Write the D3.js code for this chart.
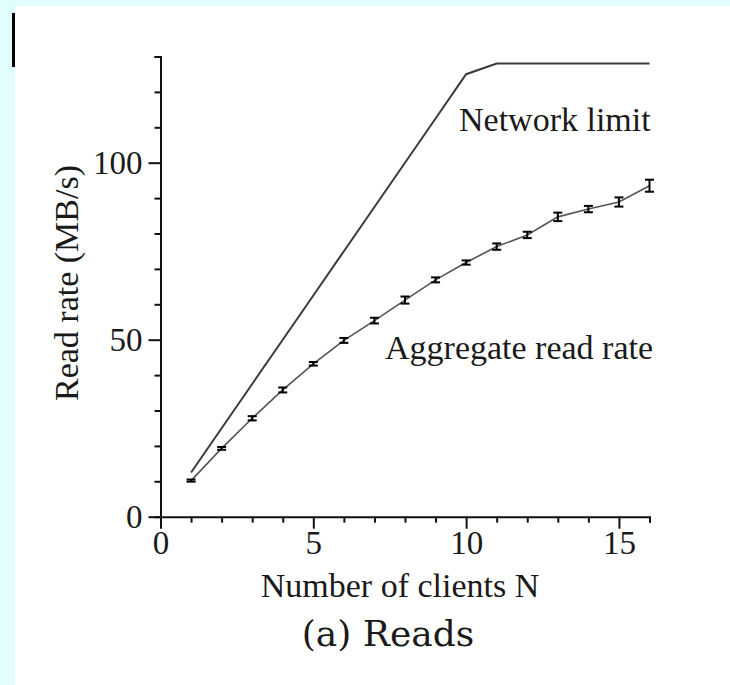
<!DOCTYPE html>
<html>
<head>
<meta charset="utf-8">
<script src="https://cdn.jsdelivr.net/npm/d3@7"></script>
<style>
  html, body { margin: 0; padding: 0; background: #e2fdfd; }
  svg { display: block; }
  text { font-family: "Liberation Serif", "Times New Roman", serif; fill: #1a1a1a; }
</style>
</head>
<body>
<script>
// ---- data ----
const clients = [1, 2, 3, 4, 5, 6, 7, 8, 9, 10, 11, 12, 13, 14, 15, 16];
const aggregateRead = [10.2, 19.3, 27.8, 35.8, 43.2, 49.8, 55.4, 61.2, 66.9, 71.8, 76.3, 79.6, 84.7, 86.9, 88.9, 93.5];
const aggregateErr = [0.3, 0.4, 0.6, 0.7, 0.5, 0.7, 0.8, 1.0, 0.7, 0.6, 0.9, 0.9, 1.2, 0.9, 1.3, 1.7];
const networkLimit = [12.5, 25, 37.5, 50, 62.5, 75, 87.5, 100, 112.5, 125, 128, 128, 128, 128, 128, 128];
const xTickValues = d3.range(0, 17, 1);
const xTickLabels = [0, 5, 10, 15];
const yTickValues = d3.range(0, 131, 10);
const yTickLabels = [0, 50, 100];
const seriesLabels = ["Network limit", "Aggregate read rate"];
const xTitle = "Number of clients N";
const yTitle = "Read rate (MB/s)";
const caption = "(a) Reads";

const W = 730, H = 685;
const svg = d3.select("body").append("svg").attr("width", W).attr("height", H);

// page background panels
svg.append("rect").attr("x", 15).attr("y", 6).attr("width", W - 15).attr("height", H - 6).attr("fill", "#ffffff");
svg.append("rect").attr("x", 12).attr("y", 13).attr("width", 3).attr("height", 54).attr("fill", "#000");

const x = d3.scaleLinear().domain([0, 16]).range([160.5, 649.5]);
const y = d3.scaleLinear().domain([0, 130]).range([516.7, 56.5]);

const axisColor = "#111";

// x axis
const gx = svg.append("g").attr("transform", `translate(0,${y(0)})`);
gx.call(d3.axisBottom(x).tickValues(xTickValues).tickSizeOuter(0)
  .tickSize(6).tickFormat(() => ""));
gx.select(".domain").attr("stroke", axisColor).attr("stroke-width", 2);
gx.selectAll(".tick line").attr("stroke", axisColor).attr("stroke-width", 2)
  .attr("y2", d => xTickLabels.includes(d) ? 12 : 6);
gx.selectAll(".tick").filter(d => xTickLabels.includes(d)).append("text")
  .attr("y", 37).attr("text-anchor", "middle").attr("font-size", 33)
  .style("font-family", '"Liberation Serif", serif').attr("fill", "#1a1a1a")
  .text(d => d);

// y axis
const gy = svg.append("g").attr("transform", `translate(${x(0)},0)`);
gy.call(d3.axisLeft(y).tickValues(yTickValues).tickSizeOuter(0)
  .tickSize(6).tickFormat(() => ""));
gy.select(".domain").attr("stroke", axisColor).attr("stroke-width", 2);
gy.selectAll(".tick line").attr("stroke", axisColor).attr("stroke-width", 2)
  .attr("x2", d => yTickLabels.includes(d) ? -12 : -6);
gy.selectAll(".tick").filter(d => yTickLabels.includes(d)).append("text")
  .attr("x", -18).attr("dy", "0.34em").attr("text-anchor", "end").attr("font-size", 33)
  .style("font-family", '"Liberation Serif", serif').attr("fill", "#1a1a1a")
  .text(d => d);

// axis titles
svg.append("text").attr("x", 400).attr("y", 597).attr("text-anchor", "middle")
  .attr("font-size", 34).text(xTitle);
svg.append("text").attr("transform", `translate(78,283) rotate(-90)`).attr("text-anchor", "middle")
  .attr("font-size", 34).text(yTitle);

// network limit line
const line = d3.line().x((d, i) => x(clients[i])).y(d => y(d));
svg.append("path").datum(networkLimit).attr("d", line)
  .attr("fill", "none").attr("stroke", "#3a3a3a").attr("stroke-width", 2);

// aggregate line
svg.append("path").datum(aggregateRead).attr("d", line)
  .attr("fill", "none").attr("stroke", "#555").attr("stroke-width", 1.6);

// error bars
const eb = svg.append("g").attr("stroke", "#000").attr("stroke-width", 2);
clients.forEach((c, i) => {
  const cx = x(c), top = y(aggregateRead[i] + aggregateErr[i]), bot = y(aggregateRead[i] - aggregateErr[i]);
  eb.append("line").attr("x1", cx).attr("x2", cx).attr("y1", top).attr("y2", bot);
  eb.append("line").attr("x1", cx - 4.5).attr("x2", cx + 4.5).attr("y1", top).attr("y2", top);
  eb.append("line").attr("x1", cx - 4.5).attr("x2", cx + 4.5).attr("y1", bot).attr("y2", bot);
});

// series labels
svg.append("text").attr("x", 459).attr("y", 131).attr("font-size", 34).text(seriesLabels[0]);
svg.append("text").attr("x", 385).attr("y", 359).attr("font-size", 34).text(seriesLabels[1]);

// caption
svg.append("text").attr("x", 388).attr("y", 646).attr("text-anchor", "middle")
  .attr("font-size", 36).style("font-family", '"DejaVu Serif", "Liberation Serif", serif')
  .style("font-weight", 300).text(caption);
</script>
</body>
</html>
